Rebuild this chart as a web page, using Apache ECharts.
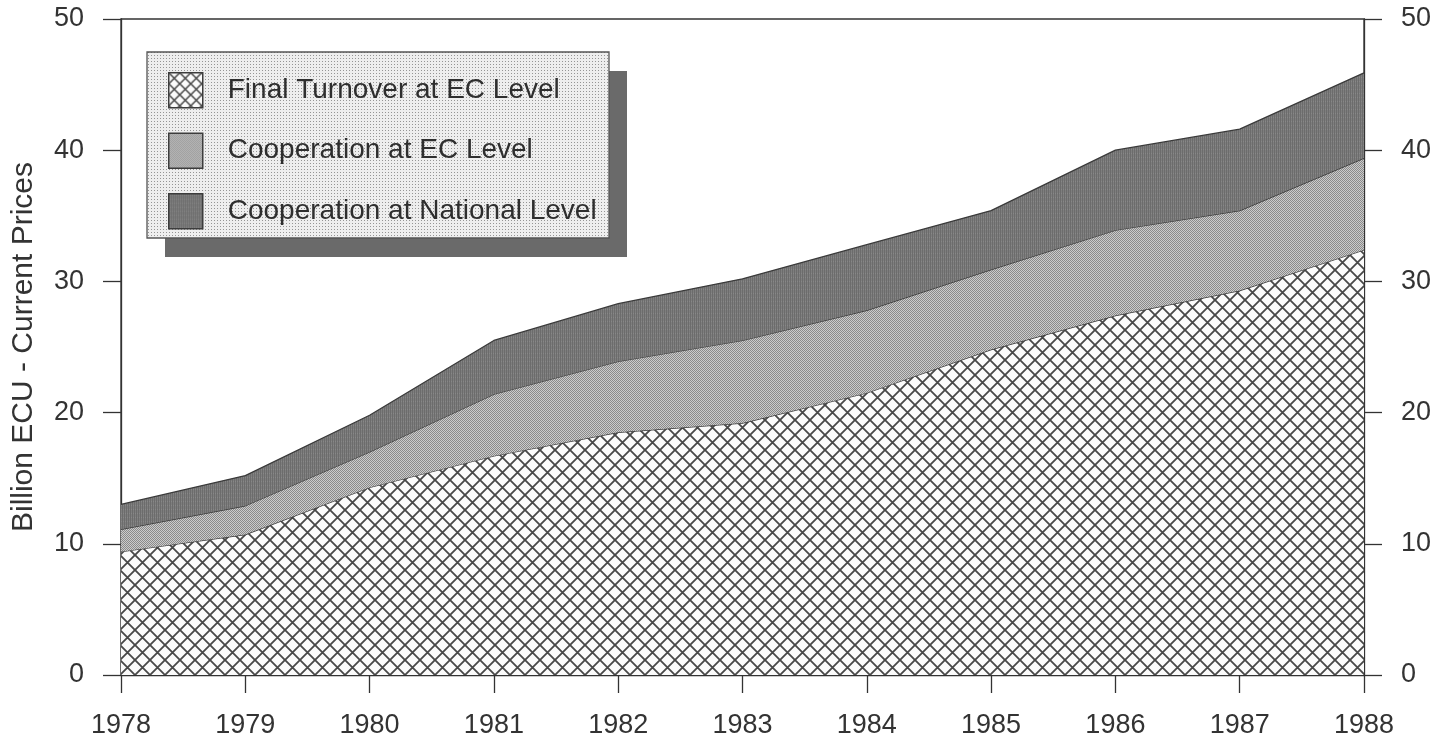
<!DOCTYPE html>
<html>
<head>
<meta charset="utf-8">
<style>
  html, body { margin: 0; padding: 0; background: #fff; }
  #chart { width: 1441px; height: 740px; }
</style>
<script src="https://cdn.jsdelivr.net/npm/echarts@6/dist/echarts.min.js"></script>
</head>
<body>
<div id="chart"></div>
<script>
// values (billion ECU), one layer per series
const years = ['1978', '1979', '1980', '1981', '1982', '1983', '1984', '1985', '1986', '1987', '1988']
const finalTurnover = [9.4, 10.7, 14.3, 16.7, 18.5, 19.2, 21.5, 24.8, 27.4, 29.3, 32.4]
const coopEC = [1.7, 2.2, 2.7, 4.7, 5.4, 6.3, 6.3, 6.1, 6.5, 6.1, 7.0]
const coopNational = [1.9, 2.3, 2.8, 4.1, 4.4, 4.7, 5.0, 4.5, 6.1, 6.2, 6.5]
const seriesNames = ['Final Turnover at EC Level', 'Cooperation at EC Level', 'Cooperation at National Level']
const yName = 'Billion ECU - Current Prices'

const FONT = '"Liberation Sans", Arial, sans-serif'
const INK = '#333'

// small canvas tiles used as fill patterns
function tile(w, h, draw) {
  const c = document.createElement('canvas')
  c.width = w
  c.height = h
  draw(c.getContext('2d'))
  return { image: c, repeat: 'repeat' }
}

function hatch(size, width) {
  return tile(size, size, ctx => {
    ctx.fillStyle = '#fbfbfb'
    ctx.fillRect(0, 0, size, size)
    ctx.strokeStyle = '#484848'
    ctx.lineWidth = width
    for (const d of [-size, 0, size]) {
      ctx.beginPath()
      ctx.moveTo(d - 1, -1); ctx.lineTo(d + size + 1, size + 1)
      ctx.moveTo(d + size + 1, -1); ctx.lineTo(d - 1, size + 1)
      ctx.stroke()
    }
  })
}

const crossHatch = hatch(15, 1.8)
const iconHatch = hatch(11, 1.5)

const fineDots = tile(2, 2, ctx => {
  ctx.fillStyle = '#cbcbcb'
  ctx.fillRect(0, 0, 2, 2)
  ctx.fillStyle = '#8a8a8a'
  ctx.fillRect(0, 0, 1, 1)
  ctx.fillRect(1, 1, 1, 1)
})

const darkStripes = tile(2, 4, ctx => {
  ctx.fillStyle = '#7e7e7e'
  ctx.fillRect(0, 0, 2, 4)
  ctx.fillStyle = '#6c6c6c'
  ctx.fillRect(0, 0, 1, 4)
  ctx.fillStyle = '#888'
  ctx.fillRect(1, 1, 1, 1)
})

const legendDots = tile(3, 3, ctx => {
  ctx.fillStyle = '#eeeeee'
  ctx.fillRect(0, 0, 3, 3)
  ctx.fillStyle = '#959595'
  ctx.fillRect(1, 1, 1, 1)
})

const fills = [crossHatch, fineDots, darkStripes]
const iconFills = [iconHatch, fineDots, darkStripes]
const layers = [finalTurnover, coopEC, coopNational]

const chart = echarts.init(document.getElementById('chart'), null, { renderer: 'canvas' })

const valueAxis = (position) => ({
  type: 'value',
  position,
  min: 0,
  max: 50,
  interval: 10,
  axisLine: { show: true, lineStyle: { color: INK, width: 1.3 } },
  axisTick: { show: true, inside: false, length: 18, lineStyle: { color: INK, width: 1.3 } },
  axisLabel: { color: INK, fontSize: 27, fontFamily: FONT, margin: 37 },
  splitLine: { show: false }
})

chart.setOption({
  animation: false,
  backgroundColor: '#fff',
  grid: {
    left: 121, right: 77, top: 19, bottom: 65,
    show: true, borderColor: INK, borderWidth: 1.3, backgroundColor: 'transparent'
  },
  legend: {
    orient: 'vertical',
    left: 163,
    top: 67,
    z: 20,
    itemWidth: 34,
    itemHeight: 35,
    itemGap: 24,
    selectedMode: false,
    textStyle: { color: '#2e2e2e', fontSize: 28, fontFamily: FONT, padding: [0, 0, 0, 20] },
    data: seriesNames.map((name, i) => ({
      name,
      icon: 'rect',
      itemStyle: { color: iconFills[i], borderColor: '#3c3c3c', borderWidth: 1.5 }
    }))
  },
  graphic: [
    {
      type: 'rect', z: 10,
      shape: { x: 165, y: 71, width: 462, height: 186 },
      style: { fill: '#6a6a6a' }
    },
    {
      type: 'rect', z: 11,
      shape: { x: 147, y: 52, width: 462, height: 186 },
      style: { fill: legendDots, stroke: '#555', lineWidth: 1.3 }
    }
  ],
  xAxis: {
    type: 'category',
    data: years,
    boundaryGap: false,
    axisLine: { lineStyle: { color: INK, width: 1.3 } },
    axisTick: { length: 18, lineStyle: { color: INK, width: 1.3 } },
    axisLabel: { color: INK, fontSize: 27, fontFamily: FONT, margin: 37 },
    splitLine: { show: false }
  },
  yAxis: [
    Object.assign(valueAxis('left'), {
      name: yName,
      nameLocation: 'middle',
      nameRotate: 90,
      nameGap: 82,
      nameTextStyle: { color: INK, fontSize: 30, fontFamily: FONT }
    }),
    valueAxis('right')
  ],
  series: layers.map((data, i) => ({
    name: seriesNames[i],
    type: 'line',
    stack: 'total',
    data,
    showSymbol: false,
    symbol: 'none',
    itemStyle: { color: fills[i] },
    lineStyle: { color: '#3a3a3a', width: 1.3 },
    areaStyle: { color: fills[i], opacity: 1 },
    z: 2 + i
  }))
})
</script>
</body>
</html>
